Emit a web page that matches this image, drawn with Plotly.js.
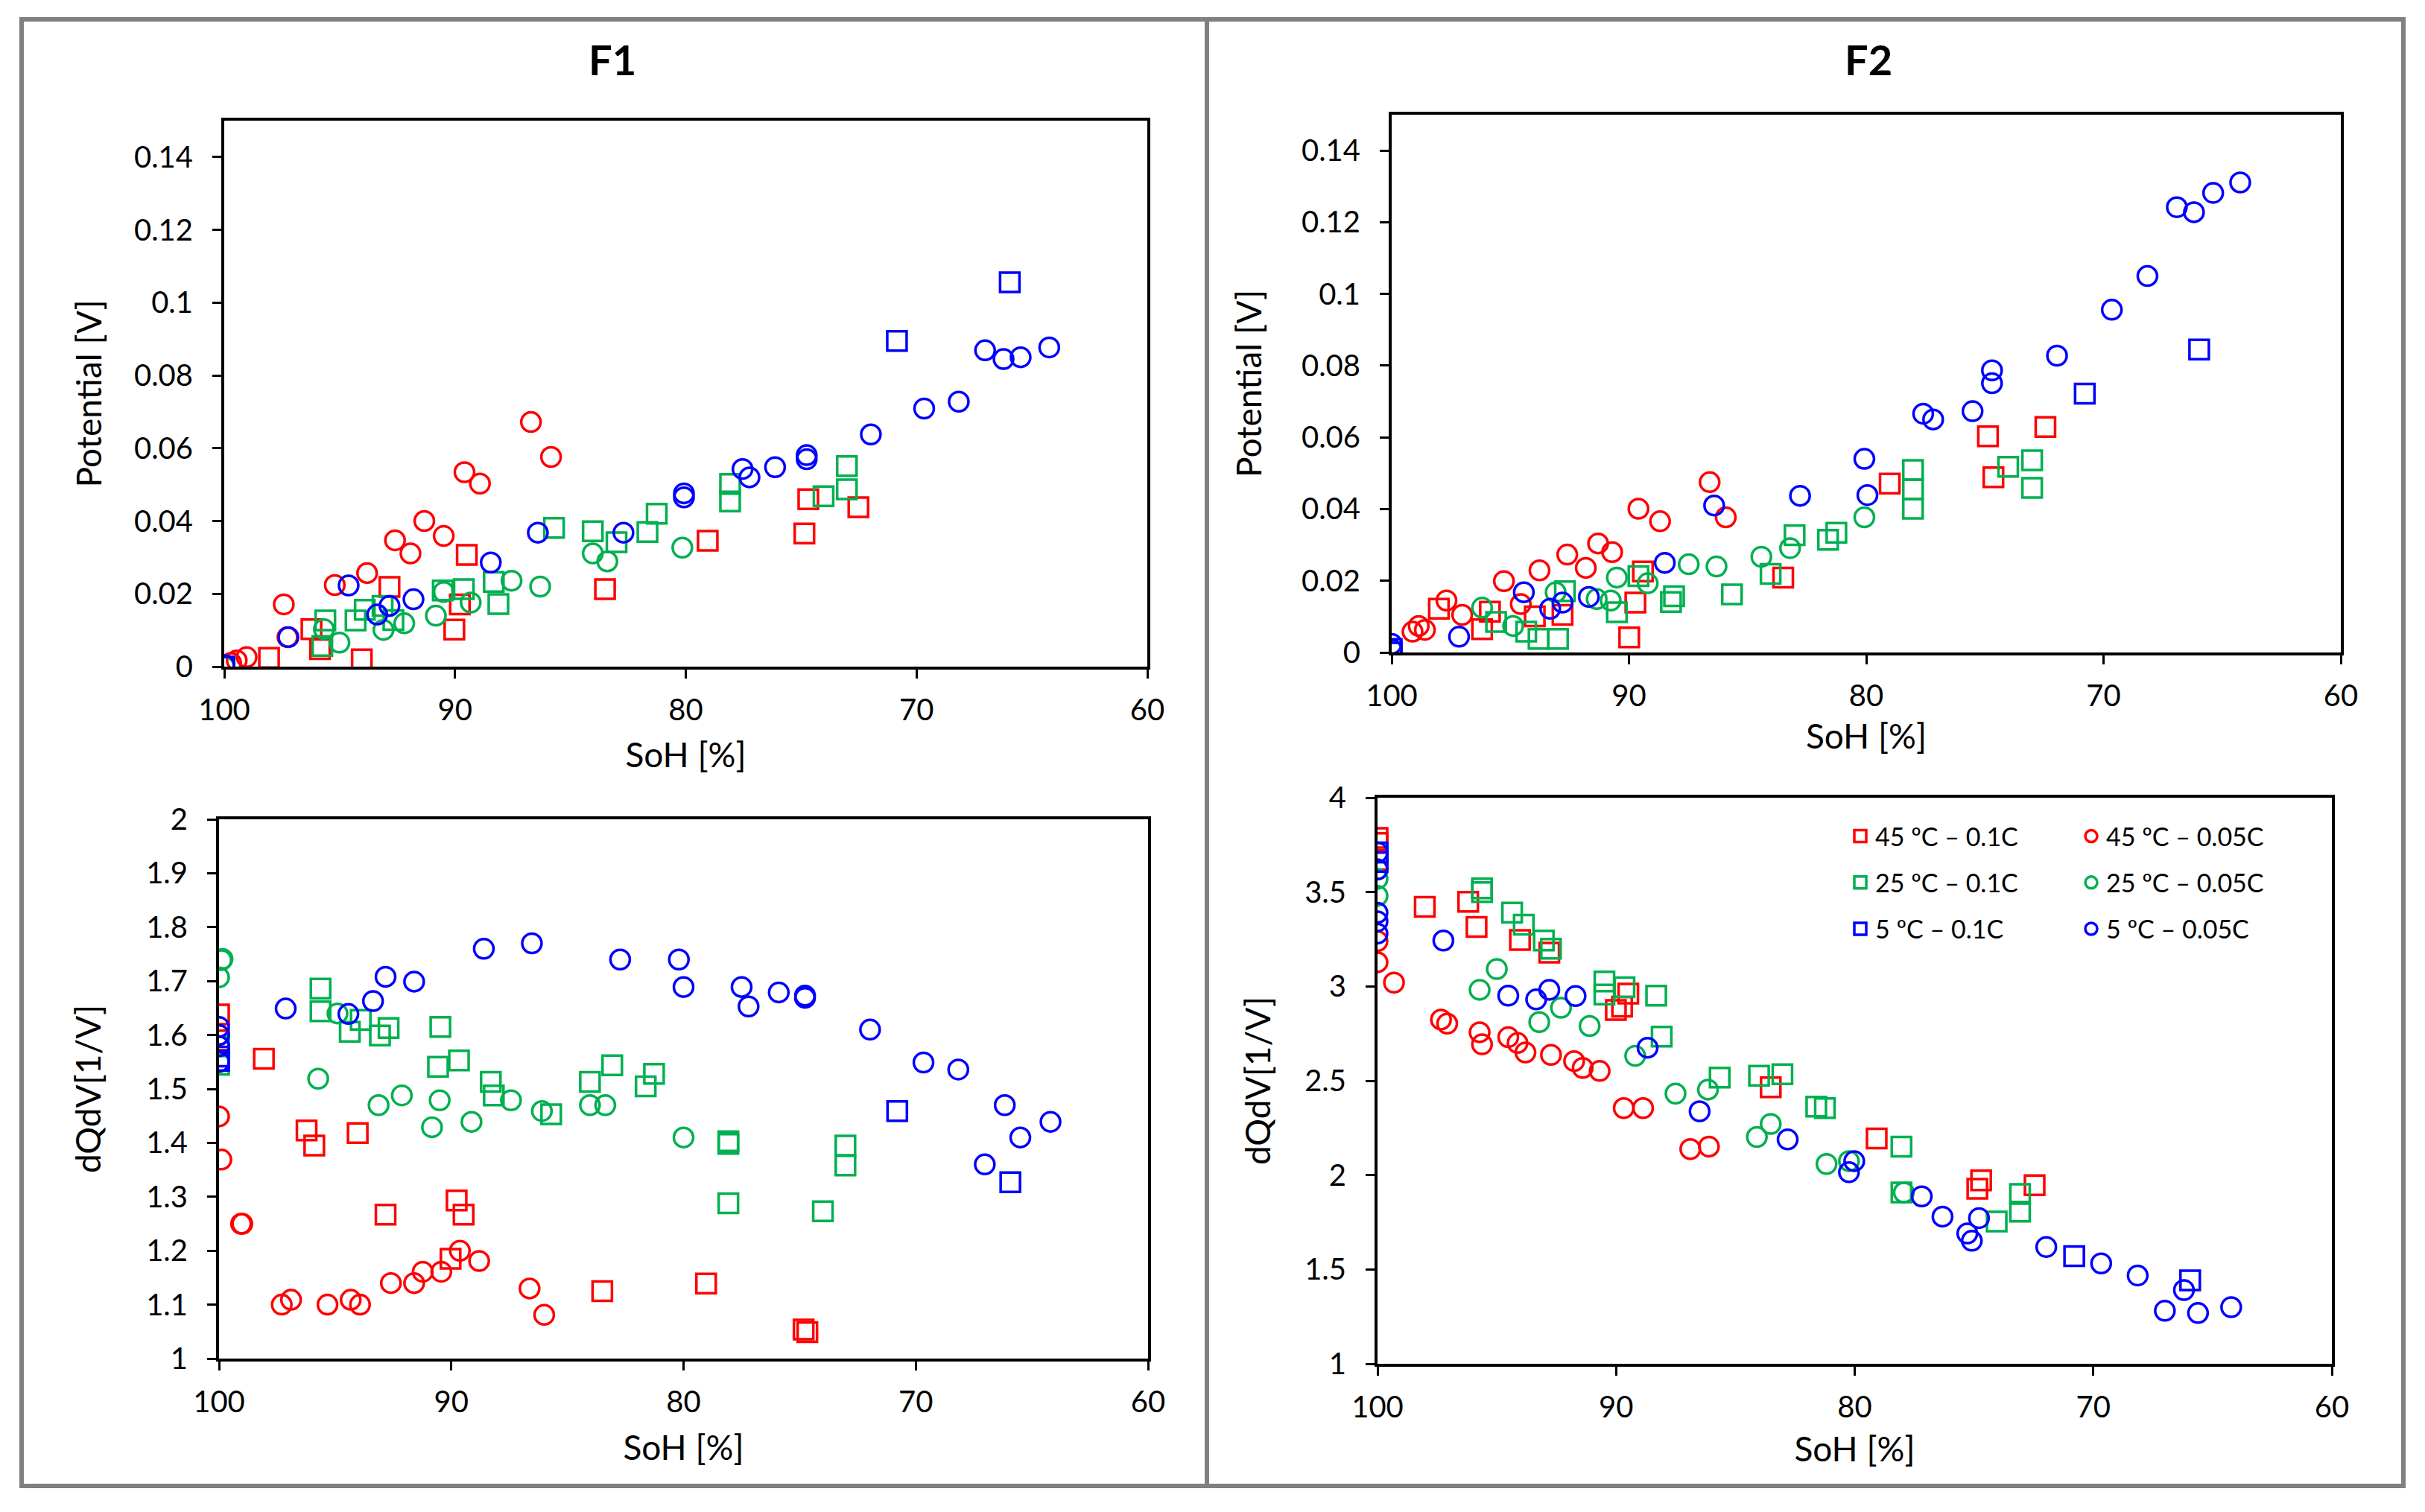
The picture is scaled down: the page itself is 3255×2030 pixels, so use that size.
<!DOCTYPE html>
<html>
<head>
<meta charset="utf-8">
<script src="https://cdn.plot.ly/plotly-3.0.1.min.js"></script>
<style>html,body{margin:0;padding:0;background:#fff;}#chart{width:3255px;height:2030px;}</style>
</head>
<body>
<div id="chart"></div>
<script>
// ---------- series definitions ----------
const seriesNames = ['45 ºC – 0.1C', '45 ºC – 0.05C', '25 ºC – 0.1C', '25 ºC – 0.05C', '5 ºC – 0.1C', '5 ºC – 0.05C'];
const seriesColors = ['#FF0000', '#FF0000', '#00B050', '#00B050', '#0000FF', '#0000FF'];
const seriesSymbols = ['square-open', 'circle-open', 'square-open', 'circle-open', 'square-open', 'circle-open'];
const xTickVals = [100, 90, 80, 70, 60];
const panelTitles = ['F1', 'F2'];

// ---------- F1 : Potential vs SoH ----------
const f1PotSoH_45_01 = [100, 98.06, 96.22, 95.85, 94.04, 92.84, 90.03, 89.79, 89.49, 83.5, 79.05, 74.86, 74.69, 72.52];
const f1Pot_45_01 = [0, 0.0024, 0.0103, 0.0048, 0.002, 0.0219, 0.0102, 0.0171, 0.0307, 0.0213, 0.0346, 0.0366, 0.046, 0.0438];
const f1PotSoH_45_005 = [99.7, 99.46, 99.03, 97.42, 97.26, 95.21, 93.81, 92.6, 91.93, 91.33, 90.49, 89.59, 88.92, 86.71, 85.84];
const f1Pot_45_005 = [0.001, 0.0017, 0.0026, 0.0171, 0.0081, 0.0224, 0.0257, 0.0347, 0.0311, 0.040, 0.0359, 0.0534, 0.0503, 0.0672, 0.0576];
const f1PotSoH_25_01 = [100, 95.62, 95.75, 94.31, 93.91, 93.14, 92.67, 90.53, 89.62, 88.32, 88.12, 85.71, 84.03, 83.0, 81.66, 81.26, 78.08, 78.08, 74.03, 73.02, 73.02];
const f1Pot_25_01 = [0, 0.0127, 0.0057, 0.0127, 0.0156, 0.0167, 0.0128, 0.0209, 0.0213, 0.0233, 0.0172, 0.0381, 0.0372, 0.0342, 0.037, 0.042, 0.0502, 0.0454, 0.0468, 0.0487, 0.0551];
const f1PotSoH_25_005 = [100, 95.68, 95.01, 93.1, 92.2, 90.83, 90.49, 89.32, 87.55, 86.31, 84.03, 83.40, 80.15];
const f1Pot_25_005 = [0, 0.0103, 0.0066, 0.0101, 0.0119, 0.014, 0.0205, 0.0176, 0.0236, 0.022, 0.0311, 0.0289, 0.0327];
const f1PotSoH_5_01 = [100, 70.85, 65.96];
const f1Pot_5_01 = [0, 0.0895, 0.1056];
const f1PotSoH_5_005 = [100, 97.22, 94.61, 93.37, 92.84, 91.80, 88.45, 86.41, 82.7, 80.08, 80.08, 77.54, 77.24, 76.13, 74.76, 74.76, 71.98, 69.67, 68.17, 67.03, 66.23, 65.49, 64.25];
const f1Pot_5_005 = [0.0004, 0.0081, 0.0223, 0.0143, 0.0167, 0.0185, 0.0286, 0.0368, 0.0368, 0.0465, 0.0476, 0.0543, 0.052, 0.0548, 0.0581, 0.057, 0.0638, 0.0709, 0.0728, 0.0869, 0.0845, 0.085, 0.0877];

// ---------- F2 : Potential vs SoH ----------
const f2PotSoH_45_01 = [98.01, 96.19, 95.86, 93.97, 92.8, 89.99, 89.73, 89.41, 83.5, 79.01, 74.87, 74.64, 72.45];
const f2Pot_45_01 = [0.0122, 0.0065, 0.0114, 0.0101, 0.0105, 0.0042, 0.0139, 0.0226, 0.0209, 0.0471, 0.0603, 0.0489, 0.0629];
const f2PotSoH_45_005 = [99.12, 98.86, 98.6, 97.69, 97.03, 95.27, 94.56, 93.77, 92.6, 91.82, 91.30, 90.71, 89.6, 88.69, 86.6, 85.92];
const f2Pot_45_005 = [0.0058, 0.0074, 0.0063, 0.0145, 0.0105, 0.0199, 0.0135, 0.0229, 0.0273, 0.0236, 0.0304, 0.028, 0.0401, 0.0366, 0.0475, 0.0377];
const f2PotSoH_25_01 = [95.6, 94.33, 93.81, 92.99, 92.7, 90.51, 89.6, 88.23, 88.1, 85.66, 84.03, 83.02, 81.61, 81.26, 78.03, 78.03, 78.03, 74.02, 73.01, 73.01];
const f2Pot_25_01 = [0.0085, 0.0058, 0.0038, 0.0038, 0.0171, 0.0112, 0.0213, 0.0141, 0.0157, 0.0162, 0.0219, 0.0327, 0.0314, 0.0334, 0.0509, 0.0455, 0.0401, 0.0518, 0.0536, 0.0459];
const f2PotSoH_25_005 = [96.19, 94.88, 93.09, 91.36, 90.77, 90.51, 89.21, 87.48, 86.31, 84.42, 83.21, 80.08];
const f2Pot_25_005 = [0.0125, 0.0074, 0.0168, 0.0149, 0.0145, 0.0209, 0.0193, 0.0246, 0.024, 0.0267, 0.0291, 0.0377];
const f2PotSoH_5_01 = [100, 100, 70.79, 65.97];
const f2Pot_5_01 = [0, 0.001, 0.0722, 0.0845];
const f2PotSoH_5_005 = [100, 100, 97.16, 94.43, 93.32, 92.80, 91.69, 88.49, 86.41, 82.79, 80.08, 79.95, 77.6, 77.18, 75.52, 74.70, 74.70, 71.96, 69.65, 68.15, 66.91, 66.19, 65.38, 64.24];
const f2Pot_5_005 = [0.0024, 0.0008, 0.0044, 0.0168, 0.0122, 0.0139, 0.0155, 0.025, 0.041, 0.0437, 0.054, 0.0439, 0.0666, 0.065, 0.0673, 0.0787, 0.0751, 0.0828, 0.0956, 0.105, 0.1242, 0.1228, 0.1282, 0.1311];

// ---------- F1 : dQdV vs SoH ----------
const f1DqSoH_45_01 = [100, 100, 98.07, 96.23, 95.9, 94.03, 92.83, 90.03, 89.77, 89.47, 83.5, 79.03, 74.83, 74.67];
const f1Dq_45_01 = [1.638, 1.59, 1.556, 1.423, 1.395, 1.418, 1.267, 1.185, 1.293, 1.267, 1.125, 1.139, 1.054, 1.049];
const f1DqSoH_45_005 = [100, 100, 99.9, 99.0, 99.05, 97.3, 96.9, 95.33, 94.33, 93.93, 92.6, 91.6, 91.23, 90.43, 89.63, 88.8, 86.63, 86.0];
const f1Dq_45_005 = [1.60, 1.449, 1.369, 1.25, 1.25, 1.10, 1.109, 1.10, 1.109, 1.10, 1.14, 1.14, 1.161, 1.161, 1.20, 1.181, 1.13, 1.081];
const f1DqSoH_25_01 = [100, 100, 95.63, 95.63, 94.37, 93.9, 93.07, 92.7, 90.47, 90.57, 89.67, 88.3, 88.17, 85.7, 84.03, 83.07, 81.63, 81.27, 78.07, 78.07, 78.07, 74.0, 73.03, 73.03];
const f1Dq_25_01 = [1.579, 1.545, 1.686, 1.644, 1.606, 1.628, 1.599, 1.613, 1.615, 1.541, 1.553, 1.513, 1.488, 1.453, 1.513, 1.544, 1.505, 1.528, 1.398, 1.403, 1.288, 1.273, 1.395, 1.358];
const f1DqSoH_25_005 = [99.9, 99.85, 100, 95.73, 94.9, 93.13, 92.13, 90.83, 90.5, 89.13, 87.43, 86.1, 84.03, 83.37, 80.0];
const f1Dq_25_005 = [1.739, 1.741, 1.707, 1.519, 1.64, 1.47, 1.488, 1.429, 1.479, 1.439, 1.479, 1.459, 1.47, 1.47, 1.41];
const f1DqSoH_5_01 = [100, 100, 70.8, 65.93];
const f1Dq_5_01 = [1.552, 1.56, 1.459, 1.327];
const f1DqSoH_5_005 = [100, 100, 100, 100, 97.13, 94.43, 93.37, 92.83, 91.6, 88.6, 86.53, 82.73, 80.2, 80.0, 77.5, 77.2, 75.9, 74.77, 74.77, 71.97, 69.67, 68.17, 67.03, 66.17, 65.5, 64.2];
const f1Dq_5_005 = [1.615, 1.60, 1.579, 1.55, 1.649, 1.639, 1.663, 1.708, 1.699, 1.760, 1.770, 1.74, 1.74, 1.689, 1.689, 1.653, 1.679, 1.673, 1.669, 1.61, 1.549, 1.536, 1.360, 1.470, 1.41, 1.439];

// ---------- F2 : dQdV vs SoH ----------
const f2DqSoH_45_01 = [100, 100, 100, 98.02, 96.2, 95.85, 94.03, 92.8, 90.01, 89.75, 89.49, 83.52, 79.08, 74.86, 74.7, 72.46];
const f2Dq_45_01 = [3.787, 3.76, 3.67, 3.422, 3.448, 3.315, 3.246, 3.179, 2.875, 2.893, 2.962, 2.465, 2.194, 1.928, 1.972, 1.946];
const f2DqSoH_45_005 = [100, 100, 99.31, 97.34, 97.08, 95.72, 95.62, 94.52, 94.13, 93.8, 92.73, 91.76, 91.4, 90.69, 89.68, 88.87, 86.89, 86.11];
const f2Dq_45_005 = [3.24, 3.128, 3.02, 2.824, 2.803, 2.757, 2.693, 2.731, 2.70, 2.65, 2.637, 2.604, 2.568, 2.552, 2.355, 2.355, 2.138, 2.151];
const f2DqSoH_25_01 = [100, 95.62, 95.62, 94.36, 93.87, 93.03, 92.73, 90.49, 90.49, 89.65, 88.32, 88.09, 85.66, 84.01, 83.03, 81.61, 81.25, 78.04, 78.04, 74.05, 73.07, 73.07];
const f2Dq_25_01 = [3.71, 3.519, 3.50, 3.391, 3.327, 3.243, 3.2, 3.026, 2.957, 2.995, 2.951, 2.734, 2.517, 2.527, 2.535, 2.363, 2.355, 2.151, 1.908, 1.754, 1.90, 1.806];
const f2DqSoH_25_005 = [100, 100, 100, 95.72, 95.0, 93.22, 92.31, 91.11, 89.2, 87.51, 86.15, 84.1, 83.52, 81.18, 80.24, 77.94];
const f2Dq_25_005 = [3.62, 3.57, 3.48, 2.982, 3.092, 2.811, 2.887, 2.79, 2.632, 2.432, 2.453, 2.202, 2.271, 2.059, 2.074, 1.908];
const f2DqSoH_5_01 = [100, 100, 70.8, 65.94];
const f2Dq_5_01 = [3.71, 3.66, 1.57, 1.442];
const f2DqSoH_5_005 = [100, 100, 100, 100, 100, 97.24, 94.52, 93.35, 92.8, 91.7, 88.68, 86.5, 82.81, 80.24, 80.02, 77.19, 76.32, 75.28, 75.09, 74.79, 71.97, 69.67, 68.14, 67.0, 66.2, 65.61, 64.22];
const f2Dq_5_005 = [3.71, 3.62, 3.39, 3.345, 3.28, 3.243, 2.951, 2.931, 2.982, 2.949, 2.675, 2.338, 2.189, 2.015, 2.074, 1.887, 1.78, 1.691, 1.652, 1.772, 1.619, 1.532, 1.468, 1.281, 1.391, 1.269, 1.30];

// ---------- build traces ----------
const panels = [
  {xa: 'x',  ya: 'y',  xs: [f1PotSoH_45_01, f1PotSoH_45_005, f1PotSoH_25_01, f1PotSoH_25_005, f1PotSoH_5_01, f1PotSoH_5_005],
   ys: [f1Pot_45_01, f1Pot_45_005, f1Pot_25_01, f1Pot_25_005, f1Pot_5_01, f1Pot_5_005], legend: false},
  {xa: 'x2', ya: 'y2', xs: [f2PotSoH_45_01, f2PotSoH_45_005, f2PotSoH_25_01, f2PotSoH_25_005, f2PotSoH_5_01, f2PotSoH_5_005],
   ys: [f2Pot_45_01, f2Pot_45_005, f2Pot_25_01, f2Pot_25_005, f2Pot_5_01, f2Pot_5_005], legend: false},
  {xa: 'x3', ya: 'y3', xs: [f1DqSoH_45_01, f1DqSoH_45_005, f1DqSoH_25_01, f1DqSoH_25_005, f1DqSoH_5_01, f1DqSoH_5_005],
   ys: [f1Dq_45_01, f1Dq_45_005, f1Dq_25_01, f1Dq_25_005, f1Dq_5_01, f1Dq_5_005], legend: false},
  {xa: 'x4', ya: 'y4', xs: [f2DqSoH_45_01, f2DqSoH_45_005, f2DqSoH_25_01, f2DqSoH_25_005, f2DqSoH_5_01, f2DqSoH_5_005],
   ys: [f2Dq_45_01, f2Dq_45_005, f2Dq_25_01, f2Dq_25_005, f2Dq_5_01, f2Dq_5_005], legend: true}
];

const traces = [];
panels.forEach(p => {
  for (let i = 0; i < 6; i++) {
    traces.push({
      type: 'scatter', mode: 'markers',
      x: p.xs[i], y: p.ys[i],
      xaxis: p.xa, yaxis: p.ya,
      name: seriesNames[i],
      legendgroup: 'g' + i,
      legend: (i % 2 === 0) ? 'legend' : 'legend2',
      showlegend: p.legend,
      marker: {symbol: seriesSymbols[i], size: 26, color: seriesColors[i], line: {width: 3.5, color: seriesColors[i]}},
      hoverinfo: 'x+y+name'
    });
  }
});

// ---------- layout ----------
const W = 3255, H = 2030;
const fam = 'Lato, "Noto Sans", sans-serif';
const tickFont = {family: fam, size: 40, color: '#000'};
const titleFont = {family: fam, size: 46, color: '#000'};
function px(a, b) { return [a / W, b / W]; }
function py(top, bottom) { return [1 - bottom / H, 1 - top / H]; }

function xAxis(domain, anchor, standoff) {
  return {
    domain: domain, anchor: anchor, range: [100, 60], tickvals: xTickVals,
    ticks: 'outside', ticklen: 12, tickwidth: 3, tickcolor: '#000',
    showline: true, linewidth: 4, linecolor: '#000', mirror: true,
    showgrid: false, zeroline: false, tickfont: tickFont, ticklabelstandoff: 8,
    title: {text: 'SoH [%]', font: titleFont, standoff: standoff}
  };
}
function yAxis(domain, anchor, range, dtick, text, standoff) {
  return {
    domain: domain, anchor: anchor, range: range, dtick: dtick, tick0: range[0],
    ticks: 'outside', ticklen: 12, tickwidth: 3, tickcolor: '#000',
    showline: true, linewidth: 4, linecolor: '#000', mirror: true,
    showgrid: false, zeroline: false, tickfont: tickFont, ticklabelstandoff: 18,
    title: {text: text, font: titleFont, standoff: standoff}
  };
}

const layout = {
  width: W, height: H,
  margin: {l: 0, r: 0, t: 0, b: 0, pad: 0},
  paper_bgcolor: '#fff', plot_bgcolor: '#fff',
  font: {family: fam, color: '#000'},
  xaxis:  xAxis(px(301, 1540), 'y', 24),
  yaxis:  yAxis(py(162, 895), 'x', [0, 0.15], 0.02, 'Potential [V]', 30),
  xaxis2: xAxis(px(1868, 3142), 'y2', 18),
  yaxis2: yAxis(py(154, 876), 'x2', [0, 0.15], 0.02, 'Potential [V]', 40),
  xaxis3: xAxis(px(294, 1541), 'y3', 25),
  yaxis3: yAxis(py(1100, 1824), 'x3', [1, 2], 0.1, 'dQdV[1/V]', 47),
  xaxis4: xAxis(px(1849, 3130), 'y4', 20),
  yaxis4: yAxis(py(1071, 1831), 'x4', [1, 4], 0.5, 'dQdV[1/V]', 32),
  legend: {
    x: 2477 / W, y: 1 - 1094 / H, xanchor: 'left', yanchor: 'top',
    bgcolor: 'rgba(0,0,0,0)', borderwidth: 0, traceorder: 'grouped', tracegroupgap: 15,
    font: {family: fam, size: 34, color: '#000'}
  },
  legend2: {
    x: 2787 / W, y: 1 - 1094 / H, xanchor: 'left', yanchor: 'top',
    bgcolor: 'rgba(0,0,0,0)', borderwidth: 0, traceorder: 'grouped', tracegroupgap: 15,
    font: {family: fam, size: 34, color: '#000'}
  },
  annotations: [
    {text: '<b>' + panelTitles[0] + '</b>', x: 822 / W, y: 1 - 79 / H, xref: 'paper', yref: 'paper',
     showarrow: false, xanchor: 'center', yanchor: 'middle', font: {family: fam, size: 56, color: '#000'}},
    {text: '<b>' + panelTitles[1] + '</b>', x: 2508 / W, y: 1 - 79 / H, xref: 'paper', yref: 'paper',
     showarrow: false, xanchor: 'center', yanchor: 'middle', font: {family: fam, size: 56, color: '#000'}}
  ],
  shapes: [
    {type: 'rect', xref: 'paper', yref: 'paper', x0: 29 / W, x1: 3226 / W, y0: 1 - 1995 / H, y1: 1 - 26 / H,
     line: {color: '#808080', width: 6}, fillcolor: 'rgba(0,0,0,0)', layer: 'below'},
    {type: 'line', xref: 'paper', yref: 'paper', x0: 1620 / W, x1: 1620 / W, y0: 1 - 1995 / H, y1: 1 - 26 / H,
     line: {color: '#808080', width: 6}, layer: 'below'}
  ],
  showlegend: true,
  hovermode: 'closest'
};

Plotly.newPlot('chart', traces, layout, {displayModeBar: false, responsive: false, staticPlot: true});
</script>
</body>
</html>
